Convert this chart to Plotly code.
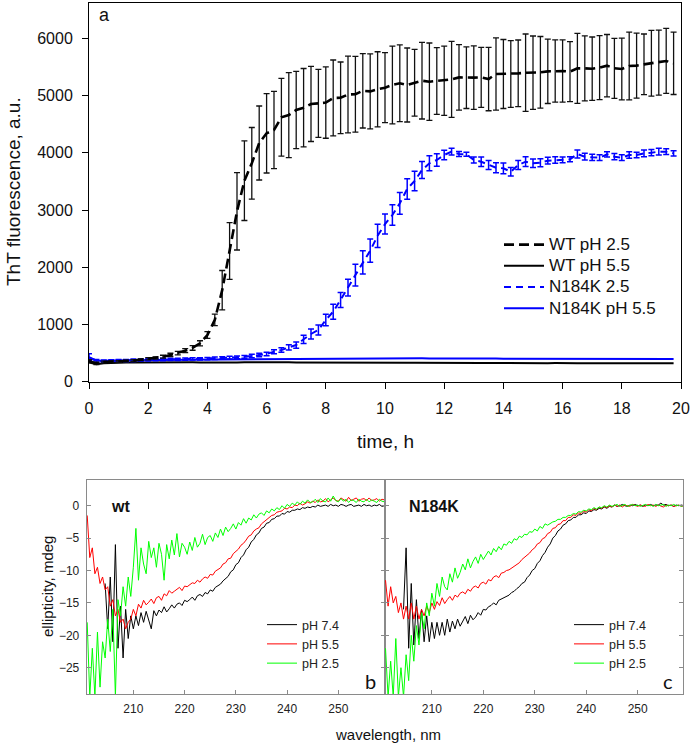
import numpy as np
import plotly.graph_objects as go

# ---------------- panel a: ThT kinetics ----------------
time_h = np.arange(0, 20, 0.25)  # 0 .. 19.75 h, 80 points

wt_ph25 = [360, 320, 345, 350, 355, 360, 370, 385,
           400, 415, 437, 467, 500, 542, 590, 671,
           816, 1080, 1600, 2285, 2978, 3514, 3818, 4173,
           4342, 4400, 4622, 4661, 4750, 4790, 4855, 4866,
           4880, 4960, 4963, 5020, 5025, 5085, 5075, 5112,
           5140, 5187, 5217, 5187, 5227, 5262, 5245, 5256,
           5262, 5285, 5320, 5315, 5315, 5320, 5291, 5379,
           5379, 5379, 5390, 5402, 5402, 5408, 5425, 5431,
           5431, 5420, 5478, 5478, 5472, 5490, 5525, 5478,
           5466, 5519, 5525, 5548, 5566, 5578, 5607, 5566]
wt_ph25_err = [25, 20, 15, 15, 15, 15, 15, 15,
               20, 20, 25, 30, 30, 35, 40, 45,
               60, 100, 344, 495, 676, 696, 626, 647,
               694, 676, 679, 743, 676, 685, 656, 595,
               624, 664, 626, 670, 661, 650, 656, 656,
               612, 679, 670, 647, 583, 670, 676, 583,
               606, 664, 574, 539, 554, 524, 554, 632,
               603, 583, 583, 676, 641, 627, 562, 545,
               545, 524, 612, 568, 554, 560, 545, 524,
               539, 592, 568, 530, 574, 568, 568, 545]
n184k_ph25 = [430, 365, 360, 365, 370, 370, 375, 378,
              382, 385, 388, 390, 392, 395, 398, 400,
              405, 410, 415, 420, 425, 435, 450, 467,
              484, 525, 554, 601, 641, 741, 834, 904,
              1079, 1224, 1428, 1645, 1865, 2085, 2290, 2550,
              2755, 2914, 3119, 3370, 3510, 3701, 3818, 3876,
              3963, 4021, 3981, 3975, 3876, 3846, 3788, 3741,
              3730, 3671, 3788, 3846, 3818, 3828, 3864, 3876,
              3876, 3888, 3981, 3934, 3922, 3917, 3975, 3934,
              3917, 3963, 3963, 3992, 4004, 4021, 4021, 3992]
n184k_ph25_err = [60, 25, 20, 20, 20, 20, 20, 20,
                  20, 20, 20, 20, 20, 20, 20, 20,
                  20, 20, 20, 25, 25, 25, 30, 30,
                  30, 35, 40, 45, 55, 73, 87, 87,
                  102, 131, 131, 146, 190, 204, 204, 204,
                  175, 180, 190, 180, 170, 150, 130, 110,
                  82, 58, 44, 35, 52, 82, 79, 87,
                  93, 73, 80, 85, 75, 70, 60, 55,
                  50, 45, 70, 60, 55, 50, 45, 55,
                  50, 55, 50, 60, 55, 60, 50, 45]
wt_ph55 = [335, 305, 322, 330, 332, 334, 334, 336,
           338, 336, 330, 332, 335, 337, 338, 336,
           334, 336, 338, 337, 335, 338, 340, 338,
           336, 337, 339, 338, 336, 335, 337, 338,
           336, 335, 337, 336, 334, 335, 336, 334,
           333, 335, 334, 332, 333, 331, 330, 332,
           331, 330, 328, 330, 329, 327, 328, 326,
           327, 326, 328, 327, 325, 326, 324, 325,
           320, 316, 322, 324, 323, 325, 324, 323,
           322, 324, 323, 322, 321, 322, 320, 321]
n184k_ph55 = [420, 372, 366, 370, 372, 375, 376, 378,
              380, 381, 382, 383, 384, 385, 386, 387,
              388, 389, 390, 391, 392, 393, 394, 395,
              396, 397, 398, 399, 400, 401, 402, 403,
              404, 405, 406, 407, 408, 407, 408, 409,
              410, 409, 408, 409, 407, 408, 406, 407,
              406, 405, 406, 404, 405, 404, 403, 404,
              403, 402, 403, 401, 402, 400, 401, 400,
              399, 398, 399, 398, 397, 398, 396, 397,
              396, 397, 396, 395, 396, 395, 396, 395]

# ---------------- panels b, c: CD spectra ----------------
wl = np.arange(201.0, 259.01, 0.5)        # 117 points
wl_black = np.arange(204.5, 259.01, 0.5)  # 110 points

wt_cd_74 = [-12.0, -19.0, -11.0, -21.0, -6.0, -22.0, -15.5, -23.5, -16.0, -20.5,
            -17.0, -19.0, -17.0, -18.5, -16.5, -18.0, -16.3, -17.5, -19.0, -16.2,
            -17.0, -16.1, -16.5, -15.6, -16.4, -15.9, -15.3, -15.8, -15.2, -15.0,
            -15.4, -14.6, -14.8, -14.5, -14.1, -14.6, -13.9, -13.7, -14.0, -13.4,
            -13.6, -13.0, -13.2, -12.6, -12.4, -12.1, -11.6, -11.3, -10.9, -10.2,
            -9.9, -9.1, -8.8, -8.0, -7.6, -6.8, -6.4, -5.6, -5.2, -4.5,
            -4.2, -3.5, -3.3, -2.7, -2.6, -2.1, -2.0, -1.6, -1.6, -1.2,
            -1.3, -0.9, -1.0, -0.7, -0.7, -0.5, -0.6, -0.3, -0.4, -0.2,
            -0.3, -0.1, -0.2, 0.1, -0.1, 0.0, 0.1, -0.1, 0.2, 0.0,
            0.1, -0.1, 0.2, 0.1, -0.1, 0.1, 0.2, -0.1, 0.0, 0.1,
            -0.1, 0.2, 0.0, 0.1, -0.1, 0.1, 0.0, 0.2, -0.1, 0.0]
wt_cd_55 = [-1.5, -8.0, -6.5, -10.5, -9.5, -12.0, -11.0, -13.0, -12.5, -15.5,
            -14.5, -17.0, -16.0, -18.0, -17.5, -19.0, -18.0, -17.5, -16.0, -17.0,
            -15.2, -15.8, -14.6, -15.3, -14.9, -14.4, -15.1, -14.2, -14.0, -14.6,
            -13.6, -13.9, -13.1, -13.5, -13.2, -12.9, -12.6, -13.1, -12.4, -12.5,
            -12.2, -11.9, -12.0, -11.5, -11.8, -11.3, -11.0, -11.2, -10.6, -10.7,
            -10.1, -9.8, -9.6, -9.0, -8.8, -8.2, -8.1, -7.4, -7.0, -6.7,
            -6.1, -5.8, -5.3, -4.7, -4.5, -3.9, -3.6, -3.4, -2.8, -2.5,
            -2.1, -1.9, -1.5, -1.4, -1.0, -0.9, -0.8, -0.4, -0.5, -0.2,
            -0.3, 0.1, 0.0, 0.4, 0.1, 0.3, 0.6, 0.4, 0.7, 0.5,
            0.9, 0.6, 0.7, 1.1, 0.6, 0.9, 1.2, 0.8, 0.7, 1.2,
            0.9, 0.7, 1.3, 0.8, 1.0, 1.2, 0.7, 1.0, 1.1, 0.8,
            1.2, 0.8, 0.9, 1.1, 0.7, 1.0, 0.9]
wt_cd_25 = [-18.0, -29.5, -22.0, -29.5, -19.5, -28.0, -21.0, -23.5, -17.5, -22.5,
            -16.0, -29.5, -14.5, -17.0, -12.5, -15.5, -11.0, -14.0, -9.5, -3.5,
            -11.5, -6.5, -9.0, -10.5, -5.5, -8.0, -6.5, -9.5, -5.8, -7.5,
            -11.5, -6.0, -8.2, -5.3, -7.6, -4.3, -7.9, -5.8, -6.4, -7.5,
            -5.6, -6.9, -4.9, -6.4, -5.8, -4.4, -6.0, -4.9, -4.6, -5.5,
            -4.2, -4.9, -3.6, -4.6, -3.3, -4.0, -3.5, -2.8, -3.6, -2.6,
            -3.0, -2.0, -2.7, -1.9, -2.2, -1.4, -1.9, -1.3, -1.1, -1.5,
            -0.8, -1.1, -0.5, -0.8, -0.3, -0.6, 0.0, -0.4, 0.2, -0.1,
            0.4, 0.1, 0.6, 0.2, 0.7, 0.4, 0.9, 0.5, 0.6, 1.0,
            0.5, 1.1, 0.7, 0.6, 1.2, 0.7, 1.5, 0.8, 0.6, 1.1,
            0.7, 1.0, 0.5, 0.9, 0.8, 0.5, 1.0, 0.7, 0.6, 1.0,
            0.6, 0.9, 0.7, 0.5, 1.0, 0.7, 0.6]

mut_cd_74 = [-16.0, -6.5, -22.0, -12.0, -21.5, -14.5, -20.5, -16.0, -21.0, -17.0,
             -21.0, -18.0, -20.5, -18.0, -20.0, -18.0, -20.0, -17.5, -19.5, -17.8,
             -19.0, -17.5, -18.6, -17.8, -17.1, -18.2, -16.9, -17.6, -17.2, -16.5,
             -16.9, -16.0, -16.1, -15.6, -15.4, -15.0, -15.3, -14.6, -14.4, -14.2,
             -13.9, -13.8, -13.4, -13.2, -12.8, -12.5, -12.0, -11.8, -11.1, -10.7,
             -10.0, -9.7, -8.9, -8.5, -7.7, -7.2, -6.4, -5.9, -5.0, -4.6,
             -3.9, -3.6, -3.0, -2.8, -2.3, -2.2, -1.8, -1.8, -1.4, -1.4,
             -1.1, -1.2, -0.8, -0.9, -0.6, -0.7, -0.4, -0.5, -0.2, -0.4,
             -0.1, -0.2, 0.1, -0.1, 0.0, 0.2, 0.0, -0.1, 0.1, 0.0,
             0.2, 0.0, 0.1, -0.1, 0.1, 0.0, 0.2, 0.0, 0.1, 0.1,
             0.4, 0.1, 0.2, 0.0, 0.1, -0.1, 0.1, 0.0, 0.1, 0.0]
mut_cd_55 = [-11.5, -15.5, -12.5, -15.0, -14.0, -16.5, -15.0, -17.5, -15.5, -17.5,
             -15.0, -17.5, -15.5, -17.5, -16.0, -17.0, -15.5, -16.5, -15.0, -16.0,
             -14.8, -15.4, -14.2, -15.1, -14.5, -14.0, -14.6, -13.8, -14.1, -13.5,
             -13.3, -13.6, -12.9, -13.2, -12.6, -12.4, -12.7, -12.0, -11.8, -12.1,
             -11.4, -11.6, -11.0, -10.8, -11.1, -10.4, -10.3, -10.0, -9.9, -9.6,
             -9.4, -9.0, -8.8, -8.3, -8.0, -7.6, -7.3, -6.8, -6.5, -5.9,
             -5.7, -5.1, -4.9, -4.3, -4.1, -3.5, -3.4, -2.9, -2.8, -2.3,
             -2.3, -1.8, -1.8, -1.4, -1.5, -1.1, -1.2, -0.8, -1.0, -0.6,
             -0.8, -0.4, -0.6, -0.2, -0.4, -0.1, -0.3, 0.0, -0.2, 0.1,
             -0.1, 0.1, -0.2, 0.1, 0.0, -0.1, 0.2, 0.0, -0.1, 0.1,
             0.0, -0.1, 0.2, 0.0, 0.1, -0.1, 0.1, 0.0, -0.2, 0.1,
             0.0, 0.1, -0.1, 0.0, 0.1, -0.1, 0.0]
mut_cd_25 = [-22.0, -29.5, -24.0, -29.5, -20.5, -29.5, -25.0, -29.5, -23.0, -27.0,
             -20.0, -24.0, -18.5, -21.5, -16.5, -19.0, -15.0, -17.0, -13.5, -15.5,
             -12.0, -14.0, -11.0, -12.5, -13.0, -10.5, -11.8, -9.6, -11.2, -10.3,
             -9.0, -9.9, -8.2, -9.6, -8.6, -7.9, -8.9, -7.5, -8.3, -7.6,
             -7.0, -7.6, -6.6, -7.1, -6.3, -6.8, -5.9, -6.1, -5.5, -5.8,
             -5.1, -5.3, -4.7, -4.9, -4.4, -4.5, -4.0, -4.1, -3.6, -3.9,
             -3.2, -3.5, -2.8, -3.0, -2.7, -2.5, -2.4, -2.1, -2.1, -1.8,
             -1.8, -1.5, -1.5, -1.2, -1.3, -0.9, -1.0, -0.7, -0.8, -0.5,
             -0.6, -0.3, -0.5, -0.2, -0.3, 0.0, -0.2, 0.1, -0.1, 0.0,
             0.2, -0.1, 0.1, 0.2, -0.1, 0.1, 0.2, 0.0, 0.1, -0.1,
             0.1, 0.2, 0.0, 0.1, -0.1, 0.2, 0.0, 0.1, 0.2, -0.1,
             0.1, 0.0, 0.2, 0.0, 0.1, -0.1, 0.1]

W, H = 697, 746
FONT = "Liberation Sans, Arial, sans-serif"


def fx(p):
    return p / W


def fy(p):
    return 1 - p / H


def big(name, size=17):
    return '<span style="font-size:%dpx">%s</span>' % (size, name)


fig = go.Figure()

# panel a
fig.add_trace(go.Scatter(x=time_h, y=wt_ph55, mode="lines", name=big("WT pH 5.5"),
                         line=dict(color="black", width=2), legendrank=2,
                         xaxis="x", yaxis="y", legend="legend"))
fig.add_trace(go.Scatter(x=time_h, y=n184k_ph55, mode="lines", name=big("N184K pH 5.5"),
                         line=dict(color="#0000ff", width=2), legendrank=4,
                         xaxis="x", yaxis="y", legend="legend"))
fig.add_trace(go.Scatter(x=time_h, y=n184k_ph25, mode="lines", name=big("N184K 2.5"),
                         line=dict(color="#0000ff", width=2, dash="7px,5px"),
                         error_y=dict(type="data", array=n184k_ph25_err, color="#0000ff",
                                      thickness=1.5, width=3),
                         legendrank=3, xaxis="x", yaxis="y", legend="legend"))
fig.add_trace(go.Scatter(x=time_h, y=wt_ph25, mode="lines", name=big("WT pH 2.5"),
                         line=dict(color="black", width=2.6, dash="10px,5px"),
                         error_y=dict(type="data", array=wt_ph25_err, color="#111111",
                                      thickness=1.3, width=3),
                         legendrank=1, xaxis="x", yaxis="y", legend="legend"))

# panel b (wt)
for vals, xs, col, nm, rk in [(wt_cd_74, wl_black, "black", "pH 7.4", 1),
                              (wt_cd_55, wl, "#ff0000", "pH 5.5", 2),
                              (wt_cd_25, wl, "#00ff00", "pH 2.5", 3)]:
    fig.add_trace(go.Scatter(x=xs, y=vals, mode="lines", name=nm,
                             line=dict(color=col, width=1), legendrank=rk,
                             xaxis="x2", yaxis="y2", legend="legend2"))
# panel c (N184K)
for vals, xs, col, nm, rk in [(mut_cd_74, wl_black, "black", "pH 7.4", 1),
                              (mut_cd_55, wl, "#ff0000", "pH 5.5", 2),
                              (mut_cd_25, wl, "#00ff00", "pH 2.5", 3)]:
    fig.add_trace(go.Scatter(x=xs, y=vals, mode="lines", name=nm,
                             line=dict(color=col, width=1), legendrank=rk,
                             xaxis="x3", yaxis="y3", legend="legend3"))

top_ax = dict(showgrid=False, zeroline=False, showline=True, linecolor="black",
              linewidth=1, mirror=True, ticks="outside", ticklen=6, tickwidth=1,
              tickcolor="black", automargin=False,
              tickfont=dict(size=16, color="#111", family=FONT))
bot_ax = dict(showgrid=False, zeroline=False, showline=True, linecolor="#8a8a8a",
              linewidth=1, ticks="inside", ticklen=4, tickwidth=1,
              tickcolor="#8a8a8a", automargin=False,
              tickfont=dict(size=12, color="#222", family=FONT))

cd_dom_y = [fy(694), fy(480)]
fig.update_layout(
    width=W, height=H, margin=dict(l=0, r=0, t=0, b=0, autoexpand=False),
    paper_bgcolor="white", plot_bgcolor="white",
    font=dict(family=FONT, color="#111"),
    xaxis=dict(domain=[fx(89), fx(681)], range=[0, 20], dtick=2, anchor="y",
               ticklabelstandoff=6, **top_ax),
    yaxis=dict(domain=[fy(381.7), fy(3.3)], range=[0, 6615], dtick=1000, anchor="x",
               ticklabelstandoff=6, **top_ax),
    xaxis2=dict(domain=[fx(86.7), fx(385)], range=[200.9, 259.1],
                tickvals=[210, 220, 230, 240, 250], anchor="y2", mirror=True,
                ticklabelstandoff=4, **bot_ax),
    yaxis2=dict(domain=cd_dom_y, range=[-29.06, 3.97],
                tickvals=[-25, -20, -15, -10, -5, 0], anchor="x2", mirror="ticks",
                ticklabelstandoff=4, **bot_ax),
    xaxis3=dict(domain=[fx(385), fx(683)], range=[200.9, 258.8],
                tickvals=[210, 220, 230, 240, 250], anchor="y3", mirror=True,
                ticklabelstandoff=4, **bot_ax),
    yaxis3=dict(domain=cd_dom_y, range=[-29.06, 3.97],
                tickvals=[-25, -20, -15, -10, -5, 0], anchor="x3", mirror="ticks",
                showticklabels=False, **bot_ax),
    legend=dict(x=fx(499), y=fy(229), xanchor="left", yanchor="top",
                font=dict(size=14, family=FONT, color="#111"),
                bgcolor="rgba(0,0,0,0)", tracegroupgap=0, itemwidth=40),
    legend2=dict(x=fx(262), y=fy(610), xanchor="left", yanchor="top",
                 font=dict(size=12.5, family=FONT, color="#222"),
                 bgcolor="rgba(0,0,0,0)", tracegroupgap=0),
    legend3=dict(x=fx(569), y=fy(610), xanchor="left", yanchor="top",
                 font=dict(size=12.5, family=FONT, color="#222"),
                 bgcolor="rgba(0,0,0,0)", tracegroupgap=0),
    showlegend=True,
)

ann = [
    dict(text="a", x=fx(97), y=fy(15), xanchor="left", font=dict(size=18)),
    dict(text="time, h", x=fx(385), y=fy(442), font=dict(size=19)),
    dict(text="ThT fluorescence, a.u.", x=fx(14), y=fy(192), textangle=-90,
         font=dict(size=19)),
    dict(text="ellipticity, mdeg", x=fx(47), y=fy(587), textangle=-90,
         font=dict(size=15)),
    dict(text="wavelength, nm", x=fx(388), y=fy(734), font=dict(size=15)),
    dict(text="<b>wt</b>", x=fx(109), y=fy(506), xanchor="left", font=dict(size=16)),
    dict(text="<b>N184K</b>", x=fx(407), y=fy(506), xanchor="left", font=dict(size=16)),
    dict(text="b", x=fx(371), y=fy(681), font=dict(size=20, family="Lato, sans-serif")),
    dict(text="c", x=fx(668), y=fy(681), font=dict(size=20, family="Lato, sans-serif")),
]
for a in ann:
    a.setdefault("xanchor", "center")
    a.update(xref="paper", yref="paper", yanchor="middle", showarrow=False)
    a["font"].setdefault("family", FONT)
    a["font"].setdefault("color", "#111")
fig.update_layout(annotations=ann)

fig.write_html(
    "out.html",
    config={"displayModeBar": False},
    post_script="document.documentElement.style.margin='0';"
                "document.body.style.margin='0';"
                "document.body.style.overflow='hidden';",
)
